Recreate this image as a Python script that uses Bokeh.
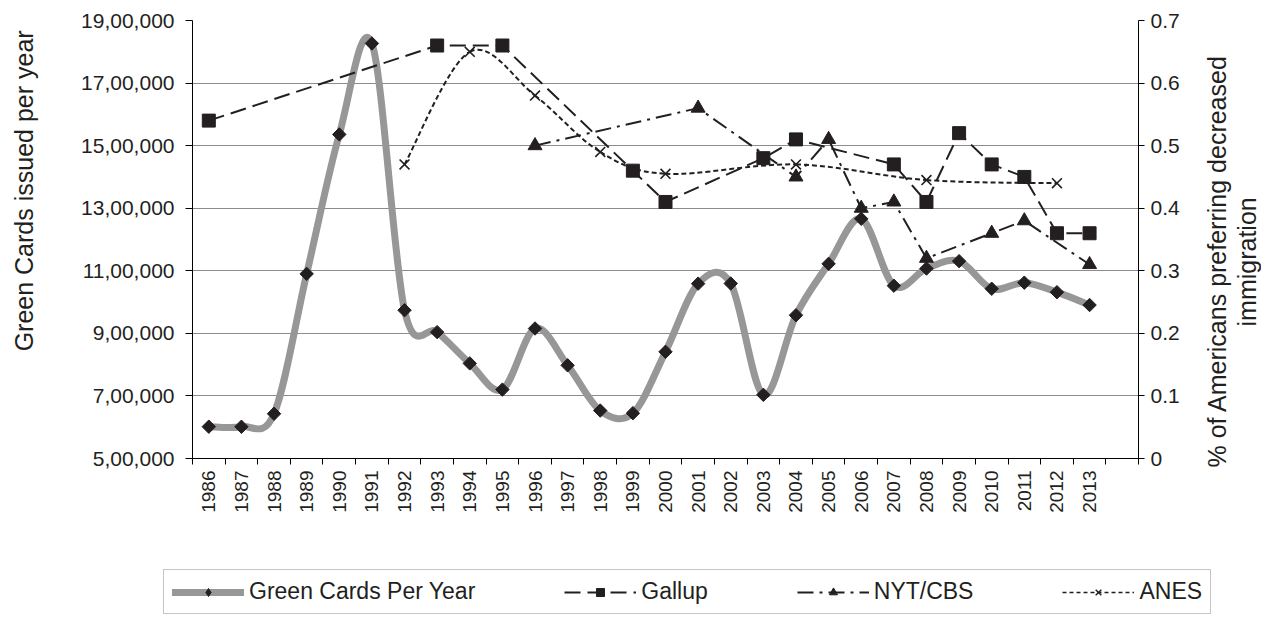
import math
from bokeh.plotting import figure
from bokeh.layouts import row, column
from bokeh.models import (Range1d, LinearAxis, FixedTicker, Legend, LegendItem,
                          ColumnDataSource, Title)
from bokeh.embed import file_html
from bokeh.resources import INLINE

# ---------------- data ----------------
years = list(range(1986, 2014))
green_cards = [601708, 601516, 643025, 1090172, 1535872, 1826595, 973977, 903916,
               803993, 720177, 915560, 797847, 653206, 644787, 841002, 1058902,
               1059356, 703542, 957883, 1122257, 1266129, 1052415, 1107126, 1130818,
               1042625, 1062040, 1031631, 990553]

gallup_years = [1986, 1993, 1995, 1999, 2000, 2003, 2004, 2007, 2008, 2009, 2010, 2011, 2012, 2013]
gallup = [0.54, 0.66, 0.66, 0.46, 0.41, 0.48, 0.51, 0.47, 0.41, 0.52, 0.47, 0.45, 0.36, 0.36]

nyt_years = [1996, 2001, 2004, 2005, 2006, 2007, 2008, 2010, 2011, 2013]
nyt = [0.50, 0.56, 0.45, 0.51, 0.40, 0.41, 0.32, 0.36, 0.38, 0.31]

anes_years = [1992, 1994, 1996, 1998, 2000, 2004, 2008, 2012]
anes = [0.47, 0.65, 0.58, 0.49, 0.455, 0.47, 0.445, 0.44]

left_ticks = [500000, 700000, 900000, 1100000, 1300000, 1500000, 1700000, 1900000]
left_tick_labels = ["5,00,000", "7,00,000", "9,00,000", "11,00,000", "13,00,000",
                    "15,00,000", "17,00,000", "19,00,000"]
right_ticks = [0, 0.1, 0.2, 0.3, 0.4, 0.5, 0.6, 0.7]
right_tick_labels = ["0", "0.1", "0.2", "0.3", "0.4", "0.5", "0.6", "0.7"]

series_names = ["Green Cards Per Year", "Gallup", "NYT/CBS", "ANES"]
left_title = "Green Cards issued per year"
right_title_lines = ["% of Americans preferring decreased", "immigration"]

FONT = "Liberation Sans"
INK = "#231f20"
GRAY = "#979797"


def smooth_segments(xs, ys):
    """Bezier control points (Excel-like smoothed line) through the data points."""
    n = len(xs)
    d = dict(x0=[], y0=[], x1=[], y1=[], cx0=[], cy0=[], cx1=[], cy1=[])
    for i in range(n - 1):
        a = max(i - 1, 0)
        b = min(i + 2, n - 1)
        d["x0"].append(xs[i]); d["y0"].append(ys[i])
        d["x1"].append(xs[i + 1]); d["y1"].append(ys[i + 1])
        d["cx0"].append(xs[i] + (xs[i + 1] - xs[a]) / 6.0)
        d["cy0"].append(ys[i] + (ys[i + 1] - ys[a]) / 6.0)
        d["cx1"].append(xs[i + 1] - (xs[b] - xs[i]) / 6.0)
        d["cy1"].append(ys[i + 1] - (ys[b] - ys[i]) / 6.0)
    return ColumnDataSource(d)


W, WP = 1261, 1200
WT = W - WP
HM, HL = 530, 86
TOP, BOTTOM = 20, HM - 458

p = figure(width=WP, height=HM, output_backend="svg", toolbar_location=None,
           x_range=Range1d(1985.5, 2014.5), y_range=Range1d(500000, 1900000),
           min_border_left=192, min_border_right=WP - 1138, min_border_top=TOP,
           min_border_bottom=BOTTOM)
p.outline_line_color = None
p.xgrid.visible = False
p.ygrid.ticker = FixedTicker(ticks=left_ticks[1:-1])
p.ygrid.grid_line_color = "#8c8c8c"
p.ygrid.grid_line_width = 1
p.background_fill_color = "white"
p.border_fill_color = "white"

p.extra_y_ranges = {"pct": Range1d(0, 0.7)}

# x axis (labels at category centres, ticks at category boundaries)
xa = p.xaxis[0]
xa.ticker = FixedTicker(ticks=years, minor_ticks=[y - 0.5 for y in years] + [2013.5, 2014.5])
xa.major_tick_line_color = None
xa.major_tick_out = 6
xa.minor_tick_line_color = "black"
xa.minor_tick_out = 6
xa.minor_tick_in = 0
xa.axis_line_color = "black"
xa.major_label_orientation = math.pi / 2
xa.major_label_text_font = FONT
xa.major_label_text_font_size = "19px"
xa.major_label_text_color = INK
xa.major_label_standoff = 6

# left axis
ya = p.yaxis[0]
ya.ticker = FixedTicker(ticks=left_ticks)
ya.major_label_overrides = {t: s for t, s in zip(left_ticks, left_tick_labels)}
ya.minor_tick_line_color = None
ya.major_tick_out = 7
ya.major_tick_in = 0
ya.major_tick_line_color = "black"
ya.axis_line_color = "black"
ya.major_label_text_font = FONT
ya.major_label_text_font_size = "21px"
ya.major_label_text_color = INK
ya.major_label_standoff = 11
ya.axis_label = "\u00a0" * 14 + left_title
ya.axis_label_text_font = FONT
ya.axis_label_text_font_size = "25px"
ya.axis_label_text_font_style = "normal"
ya.axis_label_text_color = INK
ya.axis_label_standoff = 40

# right axis
ra = LinearAxis(y_range_name="pct")
ra.ticker = FixedTicker(ticks=right_ticks)
ra.major_label_overrides = {t: s for t, s in zip(right_ticks, right_tick_labels)}
ra.minor_tick_line_color = None
ra.major_tick_out = 6
ra.major_tick_in = 0
ra.major_tick_line_color = "black"
ra.axis_line_color = "black"
ra.major_label_text_font = FONT
ra.major_label_text_font_size = "21px"
ra.major_label_text_color = INK
ra.major_label_standoff = 6
p.add_layout(ra, "right")

# ---------------- series ----------------
gsrc = smooth_segments(years, green_cards)
p.bezier(x0="x0", y0="y0", x1="x1", y1="y1", cx0="cx0", cy0="cy0", cx1="cx1", cy1="cy1",
         source=gsrc, line_color=GRAY, line_width=7, line_cap="round")
p.scatter(years, green_cards, marker="square", angle=math.pi / 4, size=9.5,
          fill_color=INK, line_color=INK)

p.line(gallup_years, gallup, y_range_name="pct", line_color=INK, line_width=2,
       line_dash="16 7")
p.scatter(gallup_years, gallup, y_range_name="pct", marker="square", size=13,
          fill_color=INK, line_color=INK)

p.line(nyt_years, nyt, y_range_name="pct", line_color=INK, line_width=2,
       line_dash="16 6 3 6")
p.scatter(nyt_years, nyt, y_range_name="pct", marker="triangle", size=14,
          fill_color=INK, line_color=INK)

asrc = smooth_segments(anes_years, anes)
p.bezier(x0="x0", y0="y0", x1="x1", y1="y1", cx0="cx0", cy0="cy0", cx1="cx1", cy1="cy1",
         source=asrc, y_range_name="pct", line_color=INK, line_width=2, line_dash="5 3")
p.scatter(anes_years, anes, y_range_name="pct", marker="x", size=14,
          line_color=INK, line_width=1.6)

# ---------------- right-hand axis title (reads bottom to top) ----------------
t = figure(width=WT, height=HM, output_backend="svg", toolbar_location=None,
           x_range=Range1d(0, 1), y_range=Range1d(0, 1),
           x_axis_type=None, y_axis_type=None,
           min_border_left=0, min_border_right=0, min_border_top=TOP,
           min_border_bottom=BOTTOM)
t.outline_line_color = None
t.background_fill_color = "white"
t.border_fill_color = "white"
t.add_layout(Title(text=right_title_lines[1], align="left", offset=132, standoff=0,
                   text_font=FONT, text_font_size="25px", text_font_style="normal",
                   text_color=INK), "left")
t.add_layout(Title(text=right_title_lines[0], align="left", offset=-9, standoff=0,
                   text_font=FONT, text_font_size="25px", text_font_style="normal",
                   text_color=INK), "left")

# ---------------- legend strip under the chart ----------------
q = figure(width=W, height=HL, output_backend="svg", toolbar_location=None,
           x_range=Range1d(1985.5, 2014.5), y_range=Range1d(10, 20),
           x_axis_type=None, y_axis_type=None,
           min_border_left=163, min_border_right=W - 1212, min_border_top=0,
           min_border_bottom=0)
q.outline_line_color = None
q.background_fill_color = "white"
q.border_fill_color = "white"
q.extra_y_ranges = {"pct": Range1d(10, 20)}

# hidden copies of the series: they only provide the legend swatches
k_g_line = q.line(years, green_cards, line_color=GRAY, line_width=7, line_cap="round", visible=False)
k_g_pt = q.scatter(years, green_cards, marker="diamond", size=15, fill_color=INK, line_color=INK, visible=False)
k_ga_line = q.line(gallup_years, gallup, y_range_name="pct", line_color=INK, line_width=2, line_dash="16 7", visible=False)
k_ga_pt = q.scatter(gallup_years, gallup, y_range_name="pct", marker="square", size=13, fill_color=INK, line_color=INK, visible=False)
k_n_line = q.line(nyt_years, nyt, y_range_name="pct", line_color=INK, line_width=2, line_dash="16 6 3 6", visible=False)
k_n_pt = q.scatter(nyt_years, nyt, y_range_name="pct", marker="triangle", size=14, fill_color=INK, line_color=INK, visible=False)
k_a_line = q.line(anes_years, anes, y_range_name="pct", line_color=INK, line_width=1.5, line_dash="4 3", visible=False)
k_a_pt = q.scatter(anes_years, anes, y_range_name="pct", marker="x", size=14, line_color=INK, line_width=1.5, visible=False)

legend = Legend(items=[
    LegendItem(label=series_names[0], renderers=[k_g_line, k_g_pt]),
    LegendItem(label=series_names[1], renderers=[k_ga_line, k_ga_pt]),
    LegendItem(label=series_names[2], renderers=[k_n_line, k_n_pt]),
    LegendItem(label=series_names[3], renderers=[k_a_line, k_a_pt]),
], orientation="horizontal", location=(0, 2))
legend.glyph_width = 72
legend.glyph_height = 20
legend.label_standoff = 5
legend.spacing = 89
legend.padding = 8
legend.margin = 0
legend.label_text_font = FONT
legend.label_text_font_size = "23px"
legend.label_text_color = INK
legend.border_line_color = "#8c8c8c"
legend.border_line_width = 1
legend.background_fill_color = "white"
legend.background_fill_alpha = 1
q.add_layout(legend, "center")

layout = column(row(p, t, spacing=0), q, spacing=0)
open("out.html", "w").write(file_html(layout, INLINE))
